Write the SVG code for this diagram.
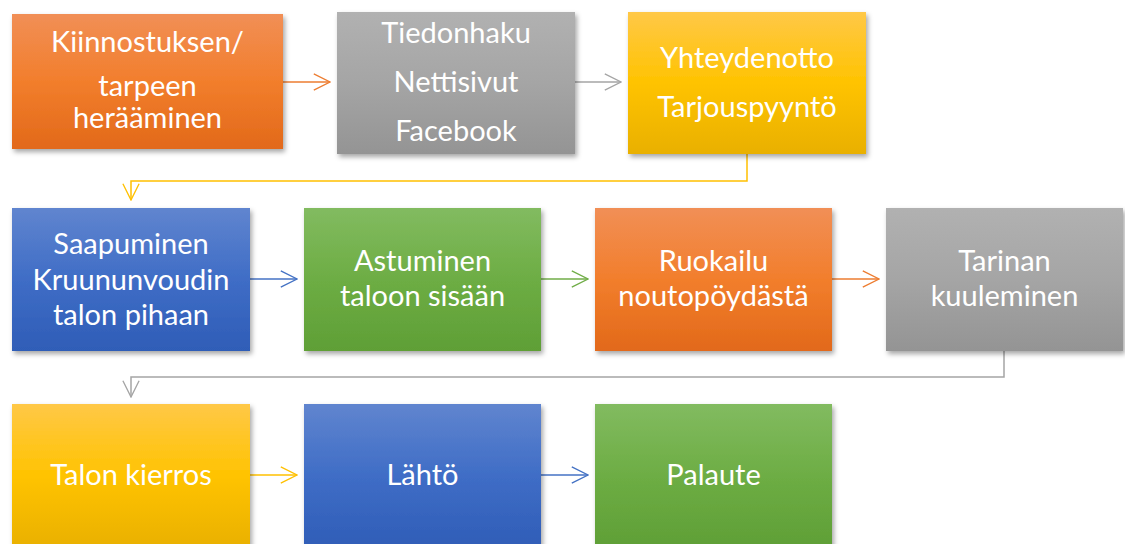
<svg xmlns="http://www.w3.org/2000/svg" width="1125" height="544" viewBox="0 0 1125 544">
<defs>
<linearGradient id="gOrange" x1="0" y1="0" x2="0" y2="1">
<stop offset="0" stop-color="#F18F56"/><stop offset="0.5" stop-color="#F27E2C"/><stop offset="1" stop-color="#E2691A"/>
</linearGradient>
<linearGradient id="gGray" x1="0" y1="0" x2="0" y2="1">
<stop offset="0" stop-color="#B1B1B1"/><stop offset="0.5" stop-color="#A5A5A5"/><stop offset="1" stop-color="#949494"/>
</linearGradient>
<linearGradient id="gGold" x1="0" y1="0" x2="0" y2="1">
<stop offset="0" stop-color="#FFC847"/><stop offset="0.5" stop-color="#FFC300"/><stop offset="1" stop-color="#E9B000"/>
</linearGradient>
<linearGradient id="gBlue" x1="0" y1="0" x2="0" y2="1">
<stop offset="0" stop-color="#6085CF"/><stop offset="0.5" stop-color="#3F6DC6"/><stop offset="1" stop-color="#2F5DB7"/>
</linearGradient>
<linearGradient id="gGreen" x1="0" y1="0" x2="0" y2="1">
<stop offset="0" stop-color="#82BB60"/><stop offset="0.5" stop-color="#6DAD44"/><stop offset="1" stop-color="#5F9F36"/>
</linearGradient>
<filter id="shadow" x="-10%" y="-10%" width="125%" height="130%">
<feDropShadow dx="2" dy="3" stdDeviation="2.5" flood-color="#000" flood-opacity="0.35"/>
</filter>
<marker id="aOrange" viewBox="0 0 20 20" refX="19" refY="10" markerWidth="18" markerHeight="18" markerUnits="userSpaceOnUse" orient="auto"><path d="M1,1 L19,10 L1,19" fill="none" stroke="#ED7D31" stroke-width="1.5"/></marker>
<marker id="aGray" viewBox="0 0 20 20" refX="19" refY="10" markerWidth="18" markerHeight="18" markerUnits="userSpaceOnUse" orient="auto"><path d="M1,1 L19,10 L1,19" fill="none" stroke="#A5A5A5" stroke-width="1.5"/></marker>
<marker id="aGold" viewBox="0 0 20 20" refX="19" refY="10" markerWidth="18" markerHeight="18" markerUnits="userSpaceOnUse" orient="auto"><path d="M1,1 L19,10 L1,19" fill="none" stroke="#FFC000" stroke-width="1.5"/></marker>
<marker id="aBlue" viewBox="0 0 20 20" refX="19" refY="10" markerWidth="18" markerHeight="18" markerUnits="userSpaceOnUse" orient="auto"><path d="M1,1 L19,10 L1,19" fill="none" stroke="#4472C4" stroke-width="1.5"/></marker>
<marker id="aGreen" viewBox="0 0 20 20" refX="19" refY="10" markerWidth="18" markerHeight="18" markerUnits="userSpaceOnUse" orient="auto"><path d="M1,1 L19,10 L1,19" fill="none" stroke="#70AD47" stroke-width="1.5"/></marker>
</defs>
<style>
.box{filter:url(#shadow);}
.t{font-family:Lato,"Open Sans","Liberation Sans",sans-serif;font-size:29px;fill:#FFFFFF;text-anchor:middle;}
.c{fill:none;stroke-width:1.5;}
</style>
<rect width="1125" height="544" fill="#FFFFFF"/>
<g id="connectors">
<path class="c" d="M283,82 H330" stroke="#ED7D31" marker-end="url(#aOrange)"/>
<path class="c" d="M575,82 H621" stroke="#A5A5A5" marker-end="url(#aGray)"/>
<path class="c" d="M747,154 V181 H131 V200" stroke="#FFC000" marker-end="url(#aGold)"/>
<path class="c" d="M250,279 H297" stroke="#4472C4" marker-end="url(#aBlue)"/>
<path class="c" d="M541,279 H588" stroke="#70AD47" marker-end="url(#aGreen)"/>
<path class="c" d="M832,279 H879" stroke="#ED7D31" marker-end="url(#aOrange)"/>
<path class="c" d="M1004,351 V377 H131 V397" stroke="#A5A5A5" marker-end="url(#aGray)"/>
<path class="c" d="M250,475 H297" stroke="#FFC000" marker-end="url(#aGold)"/>
<path class="c" d="M541,475 H588" stroke="#4472C4" marker-end="url(#aBlue)"/>
</g>
<g id="n1"><rect class="box" x="12" y="14" width="271" height="135" fill="url(#gOrange)"/>
<text class="t" x="147.5" y="52">Kiinnostuksen/</text><text class="t" x="147.5" y="96">tarpeen</text><text class="t" x="147.5" y="128">herääminen</text></g>
<g id="n2"><rect class="box" x="337" y="12" width="238" height="142" fill="url(#gGray)"/>
<text class="t" x="456" y="43">Tiedonhaku</text><text class="t" x="456" y="92">Nettisivut</text><text class="t" x="456" y="141">Facebook</text></g>
<g id="n3"><rect class="box" x="628" y="12" width="238" height="142" fill="url(#gGold)"/>
<text class="t" x="747" y="68">Yhteydenotto</text><text class="t" x="747" y="117">Tarjouspyyntö</text></g>
<g id="n4"><rect class="box" x="12" y="208" width="238" height="143" fill="url(#gBlue)"/>
<text class="t" x="131" y="254">Saapuminen</text><text class="t" x="131" y="290">Kruununvoudin</text><text class="t" x="131" y="325">talon pihaan</text></g>
<g id="n5"><rect class="box" x="304" y="208" width="237" height="143" fill="url(#gGreen)"/>
<text class="t" x="422.5" y="271">Astuminen</text><text class="t" x="422.5" y="306">taloon sisään</text></g>
<g id="n6"><rect class="box" x="595" y="208" width="237" height="143" fill="url(#gOrange)"/>
<text class="t" x="713.5" y="271">Ruokailu</text><text class="t" x="713.5" y="306">noutopöydästä</text></g>
<g id="n7"><rect class="box" x="886" y="208" width="237" height="143" fill="url(#gGray)"/>
<text class="t" x="1004.5" y="271">Tarinan</text><text class="t" x="1004.5" y="306">kuuleminen</text></g>
<g id="n8"><rect class="box" x="12" y="404" width="238" height="145" fill="url(#gGold)"/>
<text class="t" x="131" y="485">Talon kierros</text></g>
<g id="n9"><rect class="box" x="304" y="404" width="237" height="145" fill="url(#gBlue)"/>
<text class="t" x="422.5" y="485">Lähtö</text></g>
<g id="n10"><rect class="box" x="595" y="404" width="237" height="145" fill="url(#gGreen)"/>
<text class="t" x="713.5" y="485">Palaute</text></g>
</svg>
